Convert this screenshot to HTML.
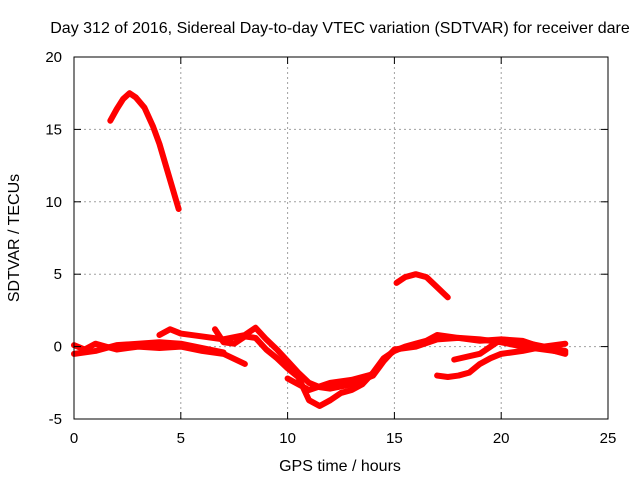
<!DOCTYPE html>
<html><head><meta charset="utf-8"><style>
body{margin:0;background:#fff;}
svg{display:block;font-family:"Liberation Sans",sans-serif;}
</style></head><body>
<svg id="chart" width="640" height="480" xmlns="http://www.w3.org/2000/svg">
<text x="340" y="33" font-size="16" text-anchor="middle">Day 312 of 2016, Sidereal Day-to-day VTEC variation (SDTVAR) for receiver dare</text>
<text x="340" y="471" font-size="16" text-anchor="middle">GPS time / hours</text>
<text x="19" y="238" font-size="16" text-anchor="middle" transform="rotate(-90 19 238)">SDTVAR / TECUs</text>
<g id="grid"></g><g id="series"></g>
<rect x="74" y="57" width="534" height="362" fill="none" stroke="#000" stroke-width="1"/>
<g id="ticks"></g>
</svg>
<script>
const xTicks=[0,5,10,15,20,25];
const yTicks=[-5,0,5,10,15,20];
const trackA=[[1.7,15.6],[2.0,16.4],[2.3,17.1],[2.6,17.5],[2.9,17.2],[3.3,16.5],[3.7,15.2],[4.0,14],[4.3,12.5],[4.6,11],[4.9,9.5]];
const trackB=[[15.1,4.4],[15.5,4.8],[16,5],[16.5,4.8],[17,4.1],[17.5,3.4]];
const trackC=[[0,0.1],[0.5,-0.2],[1,0.2],[1.5,0],[2,-0.2],[3,0],[4,-0.1],[5,0],[6,-0.3],[7,-0.5],[8,-1.2]];
const trackD=[[0,-0.5],[1,-0.3],[2,0.1],[3,0.2],[4,0.3],[5,0.2],[6,-0.1],[7,-0.4]];
const trackE=[[4,0.8],[4.5,1.2],[5,0.9],[6,0.7],[7,0.5],[8,0.8],[8.5,1.3],[9,0.5],[9.5,-0.2],[10,-1],[10.5,-1.8],[11,-2.5],[11.5,-2.8],[12,-2.9],[13,-2.6],[14,-2],[14.5,-1],[15,-0.2],[16,0],[17,0.5],[18,0.6],[19,0.4],[20,0.5],[21,0.3],[22,0],[23,-0.3]];
const trackF=[[6.6,1.2],[7,0.3],[7.5,0.2],[8,0.7],[8.5,0.6],[9,-0.2],[9.5,-0.8],[10,-1.5],[10.5,-2.1],[11,-3.7],[11.5,-4.1],[12,-3.7],[12.5,-3.2],[13,-3],[13.5,-2.6],[14,-1.8],[14.5,-0.8],[15,-0.3],[15.5,0],[16,0.2],[16.5,0.4],[17,0.8],[18,0.6],[19,0.5],[20,0.3],[21,0],[22,-0.2],[23,-0.4]];
const trackG=[[10,-2.2],[10.5,-2.6],[11,-3],[12,-2.5],[13,-2.3],[14,-1.9]];
const trackH=[[17,-2],[17.5,-2.1],[18,-2],[18.5,-1.8],[19,-1.2],[19.5,-0.8],[20,-0.5],[21,-0.3],[22,0],[23,0.2]];
const trackI=[[17.8,-0.9],[19,-0.5],[20,0.5],[21,0.4],[22,-0.1],[23,-0.5]];
const tracks=[trackA,trackB,trackC,trackD,trackE,trackF,trackG,trackH,trackI];
const NS="http://www.w3.org/2000/svg";
const X=v=>74+v/25*534, Y=v=>419-(v+5)/25*362;
const grid=document.getElementById('grid'),ticks=document.getElementById('ticks'),ser=document.getElementById('series');
function mk(tag,at,p){const e=document.createElementNS(NS,tag);for(const k in at)e.setAttribute(k,at[k]);p.appendChild(e);return e;}
xTicks.forEach(t=>{
 if(t>0&&t<25){const g=mk('line',{x1:X(t),x2:X(t),y1:57,y2:419,stroke:'#a0a0a0','stroke-dasharray':'2,3'},grid);
 
 }
 const tl=mk('text',{x:X(t),y:443,'font-size':15,'text-anchor':'middle'},ticks);tl.textContent=t;
 
 
 mk('line',{x1:X(t),x2:X(t),y1:419,y2:412,stroke:'#000'},ticks);mk('line',{x1:X(t),x2:X(t),y1:57,y2:64,stroke:'#000'},ticks);
});
yTicks.forEach(t=>{
 if(t>-5&&t<20){const g=mk('line',{x1:74,x2:608,y1:Y(t),y2:Y(t),stroke:'#a0a0a0','stroke-dasharray':'2,3'},grid);
 
 }
 const tl=mk('text',{x:62,y:Y(t)+5,'font-size':15,'text-anchor':'end'},ticks);tl.textContent=t;
 
 
 mk('line',{x1:74,x2:81,y1:Y(t),y2:Y(t),stroke:'#000'},ticks);mk('line',{x1:608,x2:601,y1:Y(t),y2:Y(t),stroke:'#000'},ticks);
});
tracks.forEach(tr=>{
 const p=mk('polyline',{points:tr.map(d=>X(d[0])+','+Y(d[1])).join(' '),fill:'none',stroke:'#ff0000','stroke-width':6,'stroke-linejoin':'round','stroke-linecap':'round'},ser);
 
 
});
</script>
</body></html>
